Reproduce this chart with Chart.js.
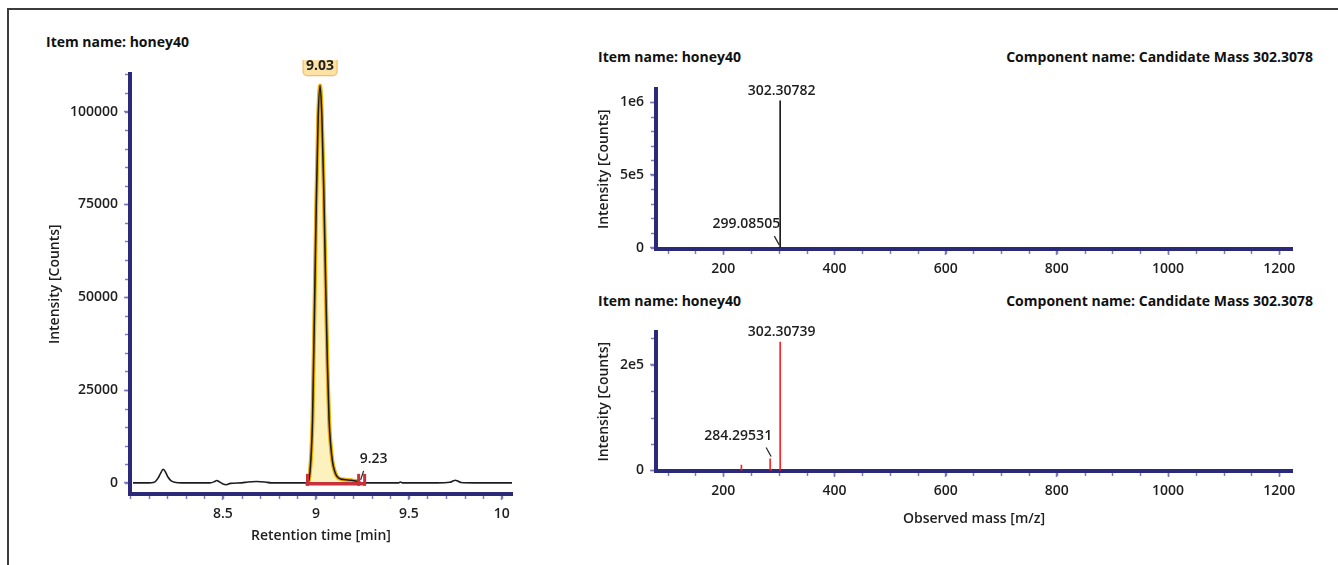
<!DOCTYPE html>
<html>
<head>
<meta charset="utf-8">
<script src="https://cdn.jsdelivr.net/npm/chart.js@4.4.0/dist/chart.umd.min.js"></script>
<style>
  body { margin:0; background:#fff; width:1338px; height:565px; overflow:hidden; position:relative; font-family:'Open Sans', sans-serif; }
  .frame { position:absolute; left:7px; top:8px; width:1400px; height:620px; border-left:2px solid #3c3c3c; border-top:2px solid #3c3c3c; }
  .hdr { position:absolute; font-weight:700; font-size:14px; color:#111; line-height:16px; white-space:nowrap; }
  canvas { position:absolute; }
</style>
</head>
<body>
<div class="frame"></div>
<div class="hdr" style="left:46px;top:34px">Item name: honey40</div>
<div class="hdr" style="left:598px;top:49px">Item name: honey40</div>
<div class="hdr" style="right:25px;top:49px">Component name: Candidate Mass 302.3078</div>
<div class="hdr" style="left:598px;top:293px">Item name: honey40</div>
<div class="hdr" style="right:25px;top:293px">Component name: Candidate Mass 302.3078</div>

<canvas id="rt" width="540" height="505" style="left:0;top:60px"></canvas>
<canvas id="ms1" width="748" height="210" style="left:590px;top:75px"></canvas>
<canvas id="ms2" width="748" height="247" style="left:590px;top:318px"></canvas>

<script>
// ══ DATA ══
// chromatogram (left)
const rtTimes  = [8.016, 8.10, 8.13, 8.15, 8.165, 8.178, 8.19, 8.205, 8.22, 8.24, 8.28, 8.35, 8.43, 8.455, 8.466, 8.48, 8.50, 8.518, 8.54, 8.60, 8.635, 8.68, 8.725, 8.76, 8.85, 8.93,
                  8.955, 8.965, 8.975, 8.982, 8.992, 9.002, 9.012, 9.0225, 9.032, 9.042, 9.052, 9.062, 9.071, 9.08, 9.09, 9.10, 9.11, 9.125, 9.15, 9.19, 9.215, 9.23, 9.25,
                  9.30, 9.40, 9.445, 9.455, 9.465, 9.55, 9.65, 9.72, 9.74, 9.749, 9.76, 9.78, 9.85, 9.95, 10.055];
const rtCounts = [0, 0, 150, 1200, 2600, 3650, 3000, 1500, 600, 150, 0, 0, 0, 350, 650, 300, -300, -500, -150, 0, 250, 350, 250, 0, 0, 0,
                  0, 1500, 8000, 17000, 45000, 75000, 98000, 107000, 99000, 80000, 55000, 32000, 17000, 10000, 5500, 3300, 2000, 1200, 900, 700, 500, 300, 0,
                  0, 0, 0, 250, 0, 0, 0, 150, 550, 700, 550, 100, 0, 0, 0];
const rtTimeTicks   = [8.5, 9, 9.5, 10];
const rtCountTicks  = [0, 25000, 50000, 75000, 100000];
const rtIntegration = [8.955, 9.23];
const rtApexLabel   = '9.03';
const rtEndLabel    = '9.23';

// mass spectra (right)
const mzTicks         = [200, 400, 600, 800, 1000, 1200];
const ms1Mz           = [299.08505, 302.30782];
const ms1Counts       = [3000, 1010000];
const ms1Labels       = ['299.08505', '302.30782'];
const ms1CountTicks   = [0, 500000, 1000000];
const ms1CountLabels  = ['0', '5e5', '1e6'];
const ms2Mz           = [232.6, 284.29531, 286.4, 302.30739];
const ms2Counts       = [11000, 22500, 2500, 243000];
const ms2Labels       = ['', '284.29531', '', '302.30739'];
const ms2CountTicks   = [0, 200000];
const ms2CountLabels  = ['0', '2e5'];

// ══ STYLE ══
const AXIS_C = '#2a2a78';
const TICK_C = '#7c7cb4';
const TXT = '#1e1e1e';
const TICK_FONT  = { family: "'Open Sans', sans-serif", size: 14, weight: '600' };
const TITLE_FONT = { family: "'Open Sans', sans-serif", size: 14, weight: '600' };
const LABEL_FONT = "600 14px 'Open Sans', sans-serif";

// minor ticks + annotations
const extras = {
  id: 'extras',
  afterDraw(chart, args, opts) {
    const ctx = chart.ctx;
    const { x, y } = chart.scales;
    ctx.save();
    ctx.strokeStyle = TICK_C;
    ctx.lineWidth = 1.5;
    if (opts.minorX) {
      for (let v = Math.ceil(x.min / opts.minorX) * opts.minorX; v <= x.max; v += opts.minorX) {
        const px = Math.round(x.getPixelForValue(v)) + 0.5;
        ctx.beginPath(); ctx.moveTo(px, x.top + 2); ctx.lineTo(px, x.top + 5); ctx.stroke();
      }
    }
    if (opts.minorY) {
      for (let v = Math.ceil(y.min / opts.minorY) * opts.minorY; v <= y.max; v += opts.minorY) {
        const py = Math.round(y.getPixelForValue(v)) + 0.5;
        ctx.beginPath(); ctx.moveTo(y.right - 2, py); ctx.lineTo(y.right - 5, py); ctx.stroke();
      }
    }
    ctx.restore();
    if (opts.draw) opts.draw(chart, ctx, x, y);
  }
};

function axis(min, max, ticks, labelFn, extra) {
  return Object.assign({
    type: 'linear', min, max,
    afterBuildTicks: s => { s.ticks = ticks.map(v => ({ value: v })); },
    ticks: { callback: labelFn, color: TXT, font: TICK_FONT, padding: 6, maxRotation: 0, autoSkip: false },
    grid: { drawOnChartArea: false, tickLength: 6, tickColor: TICK_C, tickWidth: 1.5 },
    border: { color: AXIS_C, width: 4 }
  }, extra);
}

function baseOpts(padding, scales, plug) {
  return {
    responsive: false, animation: false, events: [],
    layout: { padding },
    plugins: { legend: { display: false }, tooltip: { enabled: false }, extras: plug },
    scales
  };
}

// ══ CHROMATOGRAM ══
const rtPoints = rtTimes.map((t, i) => ({ x: t, y: rtCounts[i] }));
const rtArea = rtPoints.filter(p => p.x >= rtIntegration[0] && p.x <= rtIntegration[1]);

new Chart(document.getElementById('rt'), {
  type: 'line',
  plugins: [extras],
  data: { datasets: [
    { data: rtPoints, borderColor: '#1c1c1c', borderWidth: 1.6, pointRadius: 0, cubicInterpolationMode: 'monotone', fill: false, order: 0 },
    { data: rtArea, borderColor: '#f0b000', borderWidth: 4, backgroundColor: '#fdf1bd', fill: 'origin', pointRadius: 0, cubicInterpolationMode: 'monotone', order: 1 }
  ]},
  options: baseOpts({ left: 40, top: 10, right: 28, bottom: 21 }, {
    x: axis(8, 10.055, rtTimeTicks, v => String(v), {
      afterFit: s => { s.height = 50; },
      title: { display: true, text: 'Retention time [min]', color: TXT, font: TITLE_FONT, padding: { top: 0, bottom: 0 } }
    }),
    y: axis(-3000, 110000, rtCountTicks, v => String(v), {
      afterFit: s => { s.width = 90; },
      title: { display: true, text: 'Intensity [Counts]', color: TXT, font: TITLE_FONT, padding: { top: 7, bottom: 0 } }
    })
  }, {
    minorX: 0.1, minorY: 5000,
    draw(chart, ctx, x, y) {
      const y0 = y.getPixelForValue(0);
      const xa = x.getPixelForValue(rtIntegration[0]);
      const xb = x.getPixelForValue(rtIntegration[1]);
      ctx.save();
      // integration baseline
      ctx.strokeStyle = '#c8323c'; ctx.lineWidth = 3.5;
      ctx.beginPath(); ctx.moveTo(xa - 2, y0 + 1); ctx.lineTo(xb + 6, y0 + 1); ctx.stroke();
      ctx.lineWidth = 3;
      [xa, xb, xb + 6].forEach(px => { ctx.beginPath(); ctx.moveTo(px, y0 - 9); ctx.lineTo(px, y0 + 3); ctx.stroke(); });
      // end label
      ctx.strokeStyle = '#222'; ctx.lineWidth = 1.2;
      ctx.beginPath(); ctx.moveTo(xb + 2, y0 - 3); ctx.lineTo(xb + 5, y0 - 12); ctx.stroke();
      ctx.fillStyle = TXT; ctx.font = LABEL_FONT;
      ctx.textAlign = 'center'; ctx.textBaseline = 'middle';
      ctx.fillText(rtEndLabel, xb + 15, y0 - 24);
      // apex label box
      let iMax = 0;
      rtCounts.forEach((c, i) => { if (c > rtCounts[iMax]) iMax = i; });
      const ax = x.getPixelForValue(rtTimes[iMax]);
      const ay = y.getPixelForValue(rtCounts[iMax]);
      const bw = 34, bh = 20, by = ay - 30;
      ctx.fillStyle = '#fde2a6'; ctx.strokeStyle = '#f3bd6a'; ctx.lineWidth = 1.2;
      ctx.beginPath(); ctx.roundRect(ax - bw / 2, by, bw, bh, 4); ctx.fill(); ctx.stroke();
      ctx.fillStyle = TXT; ctx.font = "700 14px 'Open Sans', sans-serif";
      ctx.fillText(rtApexLabel, ax, by + bh / 2 + 0.5);
      ctx.restore();
    }
  })
});

// ══ SPECTRA ══
function sticks(mz, counts) {
  const pts = [];
  mz.forEach((m, i) => { pts.push({ x: m, y: 0 }, { x: m, y: counts[i] }, { x: m, y: null }); });
  return pts;
}

function drawPeakLabels(mz, counts, labels) {
  return (chart, ctx, x, y) => {
    let iMax = 0;
    counts.forEach((c, i) => { if (c > counts[iMax]) iMax = i; });
    ctx.save();
    ctx.fillStyle = TXT; ctx.strokeStyle = '#222'; ctx.lineWidth = 1.2;
    ctx.font = LABEL_FONT;
    ctx.textBaseline = 'middle';
    mz.forEach((m, i) => {
      if (!labels[i]) return;
      const px = x.getPixelForValue(m);
      const py = y.getPixelForValue(counts[i]);
      if (i === iMax) {
        ctx.textAlign = 'center';
        ctx.fillText(labels[i], px + 1.5, py - 10);
      } else {
        ctx.beginPath(); ctx.moveTo(px - 4, py - 11); ctx.lineTo(px + 1, py - 2); ctx.stroke();
        ctx.textAlign = 'right';
        ctx.fillText(labels[i], px + 2, py - 23);
      }
    });
    ctx.restore();
  };
}

new Chart(document.getElementById('ms1'), {
  type: 'line',
  plugins: [extras],
  data: { datasets: [
    { data: sticks(ms1Mz, ms1Counts), borderColor: '#111', borderWidth: 1.6, pointRadius: 0, spanGaps: false }
  ]},
  options: baseOpts({ left: 6, top: 12, right: 46, bottom: 6 }, {
    x: axis(79, 1223, mzTicks, v => String(v), { afterFit: s => { s.height = 30; } }),
    y: axis(-10000, 1087000, ms1CountTicks, (v, i) => ms1CountLabels[i], {
      afterFit: s => { s.width = 60; },
      title: { display: true, text: 'Intensity [Counts]', color: TXT, font: TITLE_FONT, padding: { top: 0, bottom: 0 } }
    })
  }, { minorX: 50, minorY: 100000, draw: drawPeakLabels(ms1Mz, ms1Counts, ms1Labels) })
});

new Chart(document.getElementById('ms2'), {
  type: 'line',
  plugins: [extras],
  data: { datasets: [
    { data: sticks(ms2Mz, ms2Counts), borderColor: '#ff1a1a', borderWidth: 1.6, pointRadius: 0, spanGaps: false }
  ]},
  options: baseOpts({ left: 6, top: 13, right: 46, bottom: 34 }, {
    x: axis(79, 1223, mzTicks, v => String(v), {
      afterFit: s => { s.height = 60; },
      title: { display: true, text: 'Observed mass [m/z]', color: TXT, font: TITLE_FONT, padding: { top: 0, bottom: 4 } }
    }),
    y: axis(-1000, 260700, ms2CountTicks, (v, i) => ms2CountLabels[i], {
      afterFit: s => { s.width = 60; },
      title: { display: true, text: 'Intensity [Counts]', color: TXT, font: TITLE_FONT, padding: { top: 0, bottom: 0 } }
    })
  }, { minorX: 50, minorY: 50000, draw: drawPeakLabels(ms2Mz, ms2Counts, ms2Labels) })
});
</script>
</body>
</html>
